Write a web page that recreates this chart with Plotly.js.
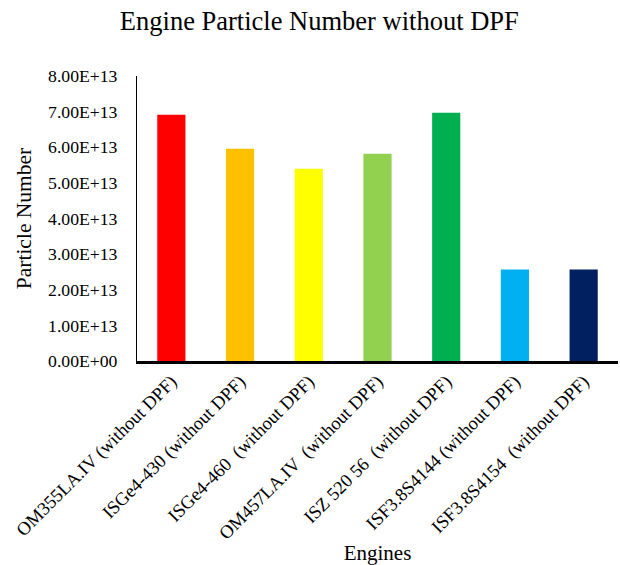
<!DOCTYPE html>
<html><head><meta charset="utf-8">
<script src="https://cdn.plot.ly/plotly-3.0.1.min.js"></script>
<style>html,body{margin:0;padding:0;background:#fff}</style>
</head><body><div id="chart" style="width:620px;height:565px"></div>
<script>
const engines = [
  "OM355LA.IV (without DPF)",
  "ISGe4-430 (without DPF)",
  "ISGe4-460 \u00a0(without DPF)",
  "OM457LA.IV \u00a0(without DPF)",
  "ISZ 520 56 \u00a0(without DPF)",
  "ISF3.8S4144 (without DPF)",
  "ISF3.8S4154 \u00a0(without DPF)"
];
const particleNumber = [6.91e13, 5.96e13, 5.40e13, 5.82e13, 6.97e13, 2.57e13, 2.57e13];
const barColors = ["#FF0000", "#FFC000", "#FFFF00", "#92D050", "#00B050", "#00B0F0", "#002060"];
const yTickVals = [0, 1e13, 2e13, 3e13, 4e13, 5e13, 6e13, 7e13, 8e13];
const yTickText = ["0.00E+00","1.00E+13","2.00E+13","3.00E+13","4.00E+13","5.00E+13","6.00E+13","7.00E+13","8.00E+13"];

const font = "Liberation Serif, Times New Roman, serif";
Plotly.newPlot("chart", [{
  type: "bar",
  x: engines,
  y: particleNumber,
  marker: {color: barColors},
  width: 0.41,
  hoverinfo: "x+y"
}], {
  width: 620, height: 565,
  margin: {l: 137, r: 2, t: 76, b: 204},
  paper_bgcolor: "#fff", plot_bgcolor: "#fff",
  font: {family: font, color: "#000", size: 18},
  title: {text: "Engine Particle Number without DPF", font: {family: font, size: 26.5, color: "#000"}, x: 0.515, xanchor: "center", y: 0.963, yanchor: "middle"},
  xaxis: {
    tickangle: -45,
    tickfont: {family: font, size: 18.5, color: "#000"},
    showline: true, linecolor: "#000", linewidth: 2.5,
    ticks: "", showgrid: false, zeroline: false, automargin: false,
    title: {text: "Engines", font: {family: font, size: 21, color: "#000"}, standoff: 0}
  },
  yaxis: {
    range: [0, 8e13],
    tickvals: yTickVals, ticktext: yTickText,
    tickfont: {family: font, size: 17.7, color: "#000"},
    showline: true, linecolor: "#000", linewidth: 1,
    ticks: "", ticklen: 0, ticklabelstandoff: 15, showgrid: false, zeroline: false, automargin: false,
    title: {text: "Particle Number", font: {family: font, size: 21.5, color: "#000"}, standoff: 10}
  },
  showlegend: false,
  bargap: 0.59
}, {displayModeBar: false, staticPlot: true});
</script></body></html>
